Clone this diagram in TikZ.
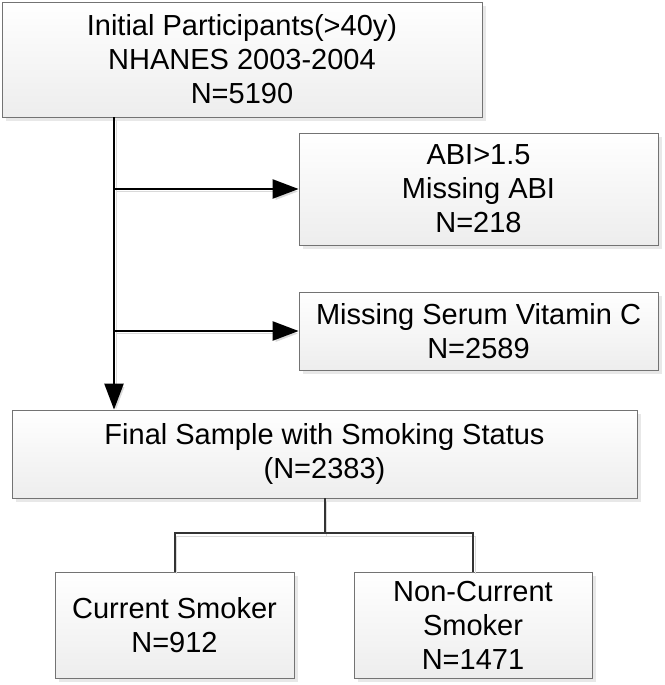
\documentclass[tikz,border=0pt]{standalone}
\usepackage{fontspec}
\setmainfont{Liberation Sans}
\usetikzlibrary{arrows.meta,shadows}
\tikzset{
  flowbox/.style={draw=gray!90!black, line width=0.8pt, top color=white, bottom color=gray!14,
    align=center, inner sep=0pt, font=\fontsize{29}{34}\selectfont,
    drop shadow={shadow xshift=4pt, shadow yshift=-4pt, fill=gray!35}},
  lineshadow/.style={preaction={draw=gray!30, transform canvas={shift={(2pt,-2.5pt)}}}},
  mainline/.style={line width=2.4pt, black, lineshadow},
  splitline/.style={line width=2pt, black!80, lineshadow},
  bigarrow/.style={-{Triangle[length=26pt,width=19pt]}}
}
\begin{document}
\begin{tikzpicture}[x=1pt,y=-1pt]
  \useasboundingbox (0,0) rectangle (664,685);
  % boxes
  \node[flowbox, minimum width=480pt, minimum height=115pt] (init) at (242,59.5)
    {Initial Participants(>40y)\\NHANES 2003-2004\\N=5190};
  \node[flowbox, minimum width=359pt, minimum height=112pt] (abi) at (478.5,189)
    {ABI>1.5\\Missing ABI\\N=218};
  \node[flowbox, minimum width=359pt, minimum height=78pt] (vitc) at (478.5,331)
    {Missing Serum Vitamin C\\N=2589};
  \node[flowbox, minimum width=625pt, minimum height=88pt] (final) at (324.5,454)
    {Final Sample with Smoking Status\\(N=2383)};
  \node[flowbox, minimum width=239pt, minimum height=106pt] (curr) at (174.5,625)
    {Current Smoker\\N=912};
  \node[flowbox, minimum width=238pt, minimum height=106pt] (noncurr) at (473,625)
    {Non-Current\\Smoker\\N=1471};
  % connectors
  \coordinate (trunk) at (114,0);
  \draw[mainline,bigarrow] (init.south -| trunk) -- (final.north -| trunk);
  \draw[mainline,bigarrow] (abi.west -| trunk) -- (abi.west);
  \draw[mainline,bigarrow] (vitc.west -| trunk) -- (vitc.west);
  \draw[splitline] (final.south) -- ++(0,35) -| (curr.north);
  \draw[splitline] (final.south) -- ++(0,35) -| (noncurr.north);
\end{tikzpicture}
\end{document}
